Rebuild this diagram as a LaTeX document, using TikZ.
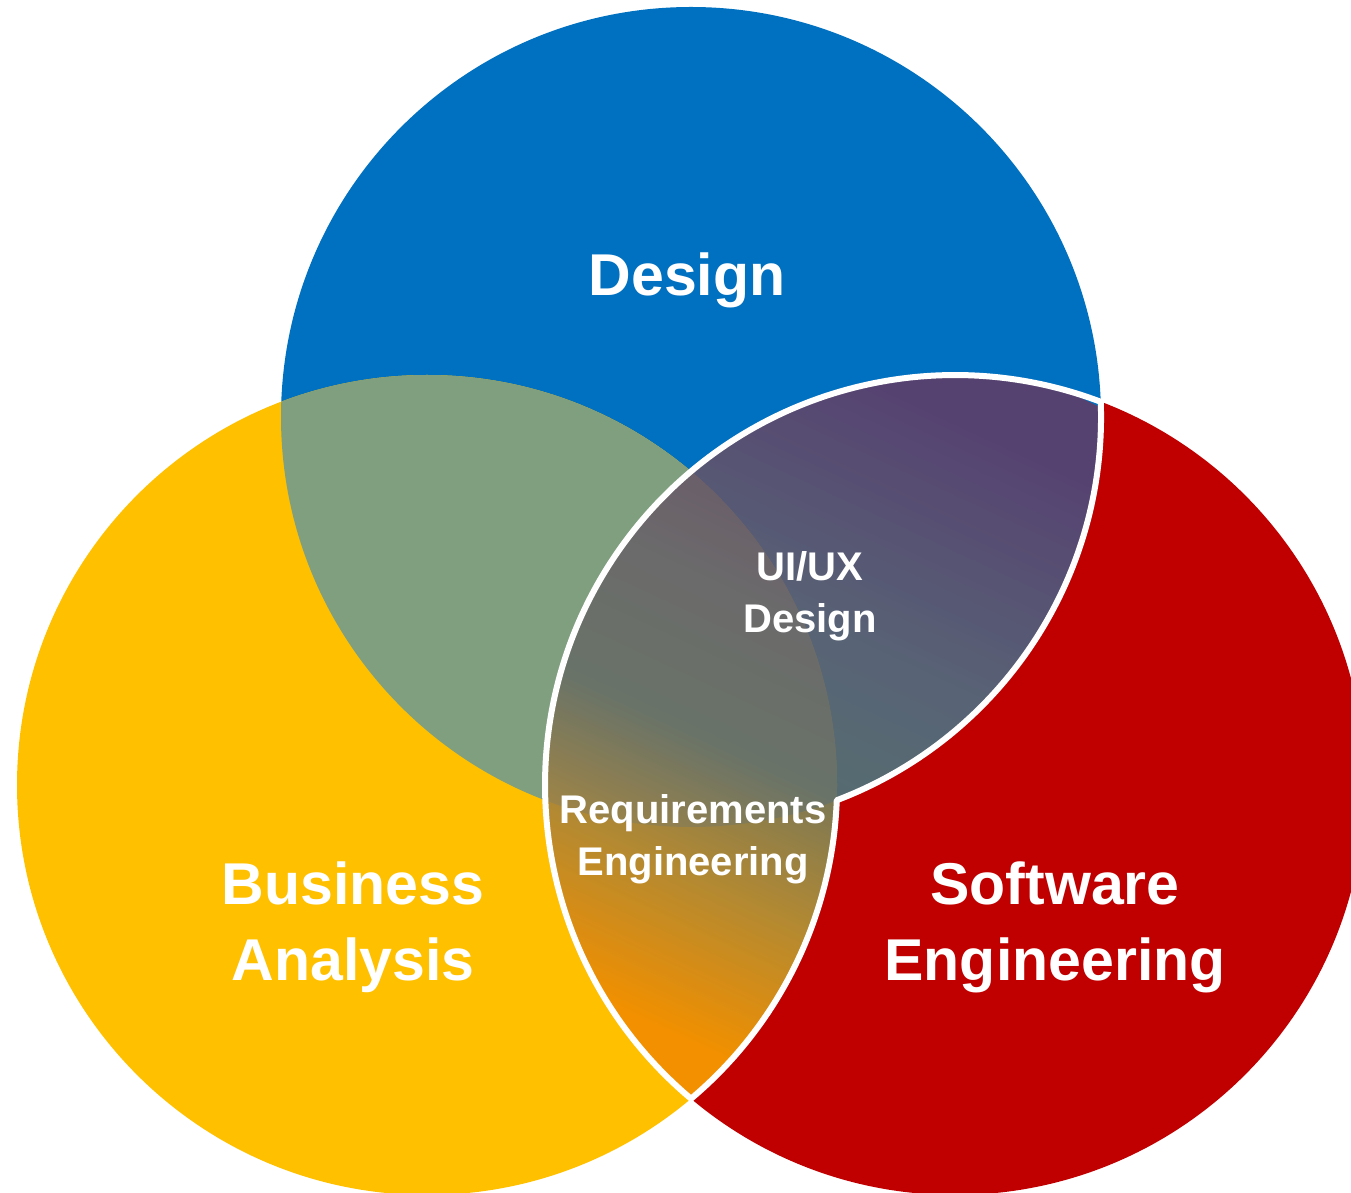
\documentclass[tikz,border=0pt]{standalone}
\usepackage{fontspec}
\setmainfont{Liberation Sans}
\definecolor{cblue}{RGB}{0,112,192}
\definecolor{cyellow}{RGB}{255,192,0}
\definecolor{cred}{RGB}{192,0,0}
\definecolor{cgreen}{RGB}{127,159,127}
\definecolor{lensA}{RGB}{240,136,0}
\definecolor{lensB}{RGB}{165,128,60}
\definecolor{lensC}{RGB}{102,108,100}
\definecolor{lensD}{RGB}{104,98,104}
\definecolor{lensE}{RGB}{102,58,100}
\pgfdeclareverticalshading{lensshade}{100bp}{color(0bp)=(lensA); color(25bp)=(lensA); color(31bp)=(lensA); color(40bp)=(lensB); color(47.5bp)=(lensC); color(56bp)=(lensD); color(71bp)=(lensE); color(100bp)=(lensE)}
\tikzset{
  biglabel/.style={text=white, font=\fontsize{59}{76}\selectfont\bfseries, align=center, inner sep=0pt},
  smalllabel/.style={text=white, font=\fontsize{40}{52}\selectfont\bfseries, align=center, inner sep=0pt},
  lensline/.style={draw=white, line width=6pt, line join=round}
}
\begin{document}
\begin{tikzpicture}[x=1pt,y=1pt]
\useasboundingbox (0,0) rectangle (1351,1192);
\clip (0,0) rectangle (1351,1192);
\coordinate (B) at (691,775);
\coordinate (Y) at (427,407);
\coordinate (R) at (955,407);
\coordinate (P0) at (691,93.31);
\def\lenspath{(P0) arc[start angle=229.91, end angle=69.18, radius=410pt] arc[start angle=2.125, end angle=-69.18, radius=410pt] arc[start angle=-2.125, end angle=-49.91, radius=410pt] -- cycle}
% circles
\fill[cred] (R) circle[radius=410pt];
\fill[cblue] (B) circle[radius=410pt];
\fill[cyellow] (Y) circle[radius=410pt];
\begin{scope}
  \clip (B) circle[radius=410pt];
  \fill[cgreen] (Y) circle[radius=410pt];
\end{scope}
% lens overlay
\begin{scope}[fill opacity=0.85]
  \clip \lenspath;
  \shade[shading=lensshade, transform canvas={rotate around={-25:(691,93)}}] (-109,43) rectangle (1491,893);
\end{scope}
\path[lensline] \lenspath;
% labels (anchor=base is the baseline of the last line)
\node[biglabel, anchor=base] (design) at (687,896) {Design};
\node[biglabel, anchor=base] (ba) at (353,212) {Business\\Analysis};
\node[biglabel, anchor=base] (se) at (1055,212) {Software\\Engineering};
\node[smalllabel, anchor=base] (ux) at (810,559) {UI/UX\\Design};
\node[smalllabel, anchor=base] (re) at (693,317) {Requirements\\Engineering};
\end{tikzpicture}
\end{document}
